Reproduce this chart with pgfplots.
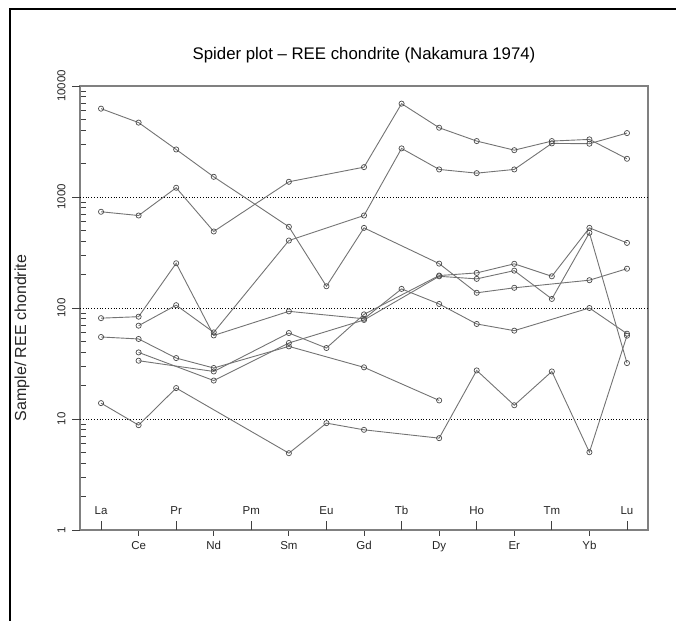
\documentclass[border=0pt]{standalone}
\usepackage{pgfplots}
\pgfplotsset{compat=1.18}
\usepackage{fontspec}
\setmainfont{Liberation Sans}
\begin{document}
\begin{tikzpicture}[x=1bp,y=1bp]
\path[use as bounding box] (0,0) rectangle (676,621);
\draw[line width=2bp] (9.5,0) -- (9.5,611.5) -- (676,611.5);
\begin{axis}[
  at={(80bp,91bp)}, anchor=south west,
  scale only axis, width=568bp, height=444bp,
  xmin=-0.56, xmax=14.56,
  ymode=log, ymin=1, ymax=10000,
  axis line style={draw=black!50, line width=1.2bp},
  xtick pos=lower, ytick pos=left,
  tick style={black!75, line width=0.8bp},
  tick label style={font=\fontsize{11.5bp}{13bp}\selectfont, text=black!85},
  xtick={1,3,5,7,9,11,13},
  xticklabels={Ce,Nd,Sm,Gd,Dy,Er,Yb},
  x tick label style={anchor=north, yshift=-2bp},
  extra x ticks={0,2,4,6,8,10,12,14},
  extra x tick labels={La,Pr,Pm,Eu,Tb,Ho,Tm,Lu},
  extra x tick style={xtick align=inside, major tick length=9bp,
     xticklabel style={anchor=south, yshift=14bp}},
  xtick align=outside, ytick align=inside, major tick length=6bp,
  ytick={2,3,4,5,6,7,8,9,20,30,40,50,60,70,80,90,200,300,400,500,600,700,800,900,2000,3000,4000,5000,6000,7000,8000,9000},
  yticklabels={},
  extra y ticks={1,10,100,1000,10000},
  extra y tick labels={1,10,100,1000,10000},
  extra y tick style={ytick align=outside, major tick length=8bp,
     yticklabel style={rotate=90, anchor=south, yshift=3bp}},
  clip=false,
  ree/.style={draw=black!55, line width=0.9bp, mark=o, mark size=2.6bp,
     mark options={solid, draw=black!70, line width=0.7bp, fill=none}},
]
\draw[dotted, line width=0.8bp] ({rel axis cs:0,0} |- {axis cs:0,10}) -- ({rel axis cs:1,0} |- {axis cs:0,10});
\draw[dotted, line width=0.8bp] ({rel axis cs:0,0} |- {axis cs:0,100}) -- ({rel axis cs:1,0} |- {axis cs:0,100});
\draw[dotted, line width=0.8bp] ({rel axis cs:0,0} |- {axis cs:0,1000}) -- ({rel axis cs:1,0} |- {axis cs:0,1000});
% A
\addplot[ree] coordinates {(0,6250) (1,4680) (2,2680) (3,1520) (5,539) (6,157) (7,527) (9,251) (10,137) (11,152) (13,178) (14,226)};
% B
\addplot[ree] coordinates {(0,736) (1,681) (2,1211) (3,489) (5,1371) (7,1858) (8,6934) (9,4208) (10,3190) (11,2642) (12,3190) (13,3303) (14,2210)};
% C
\addplot[ree] coordinates {(1,69.3) (2,106) (3,60.3) (5,405) (7,681) (8,2740) (9,1771) (10,1640) (11,1771) (12,3040) (13,3020) (14,3766)};
% D
\addplot[ree] coordinates {(0,81) (1,83.5) (2,253) (3,56.6) (5,93.3) (7,80) (8,148.6) (9,108.7) (10,71.8) (11,62.5) (13,100) (14,58.7)};
% E
\addplot[ree] coordinates {(0,13.9) (1,8.8) (2,19.0) (5,4.92) (6,9.18) (7,7.99) (9,6.72) (10,27.4) (11,13.3) (12,26.8) (13,5.02) (14,56.3)};
% F
\addplot[ree] coordinates {(0,54.8) (1,52.6) (2,35.4) (3,28.8) (5,45.1) (7,29.2) (9,14.7)};
% G
\addplot[ree] coordinates {(1,39.8) (3,22.2) (5,48.4) (7,78) (9,193) (10,183) (11,217) (12,120.7) (13,476) (14,31.9)};
% H
\addplot[ree] coordinates {(1,33.5) (3,26.8) (5,59.5) (6,43.6) (7,87.6) (9,196) (10,207) (11,250) (12,193) (13,527) (14,386)};
\end{axis}
\node[font=\fontsize{16.8bp}{19bp}\selectfont] at (364,566) {Spider plot -- REE chondrite (Nakamura 1974)};
\node[rotate=90, font=\fontsize{16bp}{18bp}\selectfont, text=black!85] at (22,283) {Sample/ REE chondrite};
\end{tikzpicture}
\end{document}
